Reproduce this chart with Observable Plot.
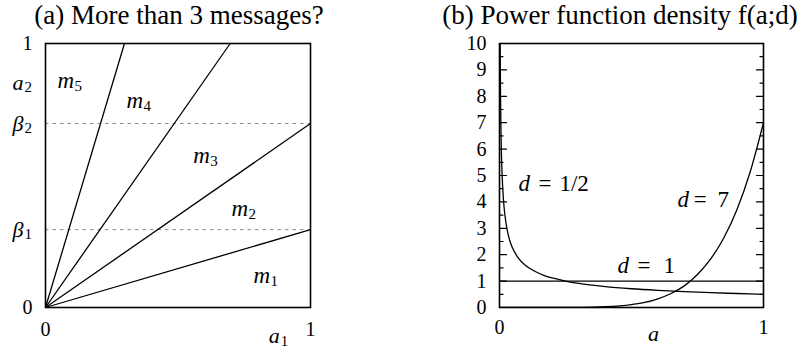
<!DOCTYPE html>
<html><head><meta charset="utf-8">
<script src="https://cdn.jsdelivr.net/npm/d3@7"></script>
<script src="https://cdn.jsdelivr.net/npm/@observablehq/plot@0.6"></script>
<style>
body{margin:0;background:#fff}
#wrap{position:relative;width:806px;height:348px;display:flex}
#wrap svg{background:#fff;font-family:"Liberation Serif",serif}
#wrap svg text{font-family:"Liberation Serif",serif !important}
.title{position:absolute;top:0;font-family:"Liberation Serif","Times New Roman",serif;font-size:27px;line-height:30px;color:#000;white-space:nowrap;transform:translateX(-50%);z-index:2}
</style></head><body><div id="wrap"></div>
<script>
// ---------- Panel (a) data ----------
const titleA = "(a) More than 3 messages?";
const betaValues = [0.295, 0.697];
const boundaryEndX = [1, 1, 0.697, 0.298];
const boundaryEndY = [0.295, 0.697, 1, 1];
const regionSubs = ["1", "2", "3", "4", "5"];
const regionX = [0.785, 0.702, 0.558, 0.306, 0.045];
const regionY = [0.091, 0.348, 0.549, 0.754, 0.833];
const aTickVals = [0, 1];
const aTickLabels = ["0", "1"];
const aYMathBase = ["β", "β", "a"];
const aYMathSub = ["1", "2", "2"];
const aYMathPos = [0.295, 0.697, 0.852];
const aXLabelPos = 0.842;

// ---------- Panel (b) data ----------
const titleB = "(b) Power function density f(a;d)";
const aHalf = [0.0025,0.004,0.006,0.01,0.015,0.02,0.03,0.04,0.05,0.07,0.1,0.13,0.17,0.2,0.25,0.3,0.4,0.5,0.6,0.7,0.8,0.9,1];
const fHalf = [10,7.9,6.45,5,4.08,3.54,2.89,2.5,2.24,1.89,1.58,1.39,1.21,1.12,1,0.91,0.79,0.71,0.65,0.6,0.56,0.53,0.5];
const aSeven = [0,0.2,0.3,0.4,0.5,0.55,0.6,0.65,0.7,0.75,0.8,0.85,0.9,0.95,1];
const fSeven = [0,0.0004,0.005,0.029,0.11,0.19,0.33,0.53,0.82,1.25,1.84,2.64,3.72,5.15,7];
const aOne = [0, 1];
const fOne = [1, 1];
const bMajorTicks = [0,1,2,3,4,5,6,7,8,9,10];
const bMinorTicks = [0.5,1.5,2.5,3.5,4.5,5.5,6.5,7.5,8.5,9.5];
const bXTicks = [0, 1];
const curveLabelD = [0.072, 0.674, 0.447];      // x of "d"
const curveLabelEq = [0.148, 0.736, 0.523];     // x of "="
const curveLabelNum = [0.227, 0.826, 0.621];    // x of number
const curveLabelY = [4.43, 3.79, 1.29];         // baseline
const curveLabelText = ["1/2", "7", "1"];

const serif = "Liberation Serif";
const W = 403, H = 348;

function pts(xs, ys) { return xs.map((x, i) => ({x, y: ys[i]})); }

// ---------- Panel (a) ----------
const boundaries = boundaryEndX.map((x, i) => ({x1: 0, y1: 0, x2: x, y2: boundaryEndY[i]}));
const regions = regionSubs.map((s, i) => ({s, x: regionX[i], y: regionY[i]}));
const yMath = aYMathBase.map((b, i) => ({b, s: aYMathSub[i], y: aYMathPos[i]}));

const T = {fontFamily: serif, fill: "black"};

const plotA = Plot.plot({
  width: W, height: H,
  marginLeft: 45, marginRight: 93, marginTop: 43, marginBottom: 41,
  x: {domain: [0, 1], axis: null},
  y: {domain: [0, 1], axis: null},
  style: {fontFamily: serif, overflow: "visible"},
  marks: [
    Plot.ruleY(betaValues, {stroke: "#8a8a8a", strokeWidth: 1, strokeDasharray: "3.5,4"}),
    Plot.link(boundaries, {x1: "x1", y1: "y1", x2: "x2", y2: "y2", stroke: "black", strokeWidth: 1.3}),
    Plot.frame({stroke: "black", strokeWidth: 1.6}),
    Plot.text(regions, {...T, x: "x", y: "y", text: () => "m", textAnchor: "start", lineAnchor: "bottom", fontSize: 23, fontStyle: "italic"}),
    Plot.text(regions, {...T, x: "x", y: "y", text: "s", textAnchor: "start", lineAnchor: "bottom", fontSize: 15, dx: 17, dy: 3}),
    Plot.text(aTickVals, {...T, y: d => d, text: (d, i) => aTickLabels[i], frameAnchor: "left", textAnchor: "end", lineAnchor: "middle", dx: -13, fontSize: 20}),
    Plot.text(yMath, {...T, y: "y", text: "b", frameAnchor: "left", textAnchor: "start", lineAnchor: "middle", dx: -33, fontSize: 22, fontStyle: "italic"}),
    Plot.text(yMath, {...T, y: "y", text: "s", frameAnchor: "left", textAnchor: "start", lineAnchor: "middle", dx: -21, dy: 5, fontSize: 15}),
    Plot.text(aTickVals, {...T, x: d => d, text: (d, i) => aTickLabels[i], frameAnchor: "bottom", textAnchor: "middle", lineAnchor: "bottom", dy: 28, fontSize: 20}),
    Plot.text([aXLabelPos], {...T, x: d => d, text: () => "a", frameAnchor: "bottom", textAnchor: "start", lineAnchor: "bottom", dy: 35, fontSize: 22, fontStyle: "italic"}),
    Plot.text([aXLabelPos], {...T, x: d => d, text: () => "1", frameAnchor: "bottom", textAnchor: "start", lineAnchor: "bottom", dx: 12, dy: 38, fontSize: 15})
  ]
});

// ---------- Panel (b) ----------
const tickShape = {draw(context, l) { context.moveTo(0, 0); context.lineTo(0, -l); }};
const curveLabels = curveLabelText.map((t, i) => ({t, xd: curveLabelD[i], xe: curveLabelEq[i], xn: curveLabelNum[i], y: curveLabelY[i]}));

const plotB = Plot.plot({
  width: W, height: H,
  marginLeft: 96, marginRight: 43, marginTop: 43, marginBottom: 41,
  x: {domain: [0, 1], axis: null},
  y: {domain: [0, 10], axis: null},
  style: {fontFamily: serif, overflow: "visible"},
  marks: [
    Plot.line(pts(aOne, fOne), {x: "x", y: "y", stroke: "black", strokeWidth: 1.3}),
    Plot.line(pts(aHalf, fHalf), {x: "x", y: "y", curve: "monotone-x", stroke: "black", strokeWidth: 1.3, clip: true}),
    Plot.line(pts(aSeven, fSeven), {x: "x", y: "y", curve: "monotone-x", stroke: "black", strokeWidth: 1.3, clip: true}),
    Plot.vector(bMajorTicks, {y: d => d, frameAnchor: "left", length: 7, rotate: 90, anchor: "start", shape: tickShape, stroke: "black", strokeWidth: 1.2}),
    Plot.vector(bMinorTicks, {y: d => d, frameAnchor: "left", length: 3.5, rotate: 90, anchor: "start", shape: tickShape, stroke: "black", strokeWidth: 1.2}),
    Plot.vector(bMajorTicks, {y: d => d, frameAnchor: "right", length: 7, rotate: -90, anchor: "start", shape: tickShape, stroke: "black", strokeWidth: 1.2}),
    Plot.vector(bMinorTicks, {y: d => d, frameAnchor: "right", length: 3.5, rotate: -90, anchor: "start", shape: tickShape, stroke: "black", strokeWidth: 1.2}),
    Plot.frame({stroke: "black", strokeWidth: 1.6}),
    Plot.text(bMajorTicks, {...T, y: d => d, text: d => String(d), frameAnchor: "left", textAnchor: "end", lineAnchor: "middle", dx: -13, fontSize: 20}),
    Plot.text(bXTicks, {...T, x: d => d, text: d => String(d), frameAnchor: "bottom", textAnchor: "middle", lineAnchor: "bottom", dy: 26, fontSize: 20}),
    Plot.text([0.583], {...T, x: d => d, text: () => "a", frameAnchor: "bottom", textAnchor: "middle", lineAnchor: "bottom", dy: 33, fontSize: 22, fontStyle: "italic"}),
    Plot.text(curveLabels, {...T, x: "xd", y: "y", text: () => "d", textAnchor: "start", lineAnchor: "bottom", fontSize: 23, fontStyle: "italic"}),
    Plot.text(curveLabels, {...T, x: "xe", y: "y", text: () => "=", textAnchor: "start", lineAnchor: "bottom", fontSize: 23}),
    Plot.text(curveLabels, {...T, x: "xn", y: "y", text: "t", textAnchor: "start", lineAnchor: "bottom", fontSize: 23})
  ]
});

for (const svg of [plotA, plotB]) {
  svg.setAttribute("font-family", serif);
  svg.querySelectorAll("text").forEach(el => { el.setAttribute("font-family", serif); el.style.fontFamily = serif; });
}

const wrap = document.getElementById("wrap");
wrap.appendChild(plotA);
wrap.appendChild(plotB);
for (const [text, cx] of [[titleA, 179], [titleB, 620]]) {
  const d = document.createElement("div");
  d.className = "title";
  d.style.left = cx + "px";
  d.textContent = text;
  wrap.appendChild(d);
}
</script></body></html>
